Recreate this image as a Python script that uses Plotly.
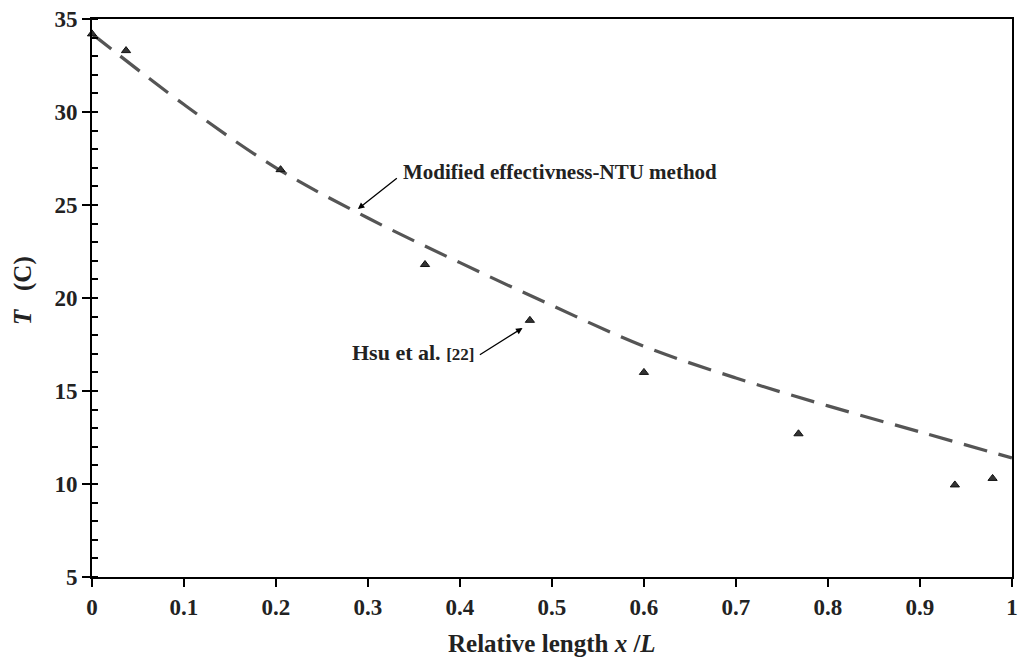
import plotly.graph_objects as go

# Measured data (Hsu et al. [22])
hsu_x = [0.0, 0.037, 0.205, 0.362, 0.476, 0.600, 0.768, 0.938, 0.979]
hsu_T = [34.2, 33.3, 26.9, 21.8, 18.8, 16.0, 12.7, 9.95, 10.3]

# Modified effectiveness-NTU method curve
model_x = [0.0, 0.1, 0.2, 0.3, 0.4, 0.5, 0.6, 0.7, 0.8, 0.9, 1.0]
model_T = [34.2, 30.4, 27.0, 24.3, 21.9, 19.6, 17.4, 15.7, 14.2, 12.8, 11.4]

x_ticks = [0, 0.1, 0.2, 0.3, 0.4, 0.5, 0.6, 0.7, 0.8, 0.9, 1]
x_ticklabels = ["0", "0.1", "0.2", "0.3", "0.4", "0.5", "0.6", "0.7", "0.8", "0.9", "1"]
y_ticks = [5, 10, 15, 20, 25, 30, 35]

FONT = "Liberation Serif"
TXT = "#222222"

fig = go.Figure()
fig.add_trace(go.Scatter(
    x=model_x, y=model_T, mode="lines", line_shape="spline",
    line=dict(color="#555555", width=3.2, dash="24px,12px"),
    showlegend=False, hoverinfo="skip"))
fig.add_trace(go.Scatter(
    x=hsu_x, y=hsu_T, mode="markers",
    marker=dict(symbol="triangle-up", size=8, color="#333333",
                line=dict(color="#111111", width=1)),
    showlegend=False, cliponaxis=False))

axis_common = dict(
    showline=True, linecolor="black", linewidth=2, mirror=True,
    showgrid=False, zeroline=False, automargin=False,
    tickfont=dict(family=FONT, size=23, color=TXT, weight="bold"),
    ticks="outside", tickcolor="black", tickwidth=2, ticklen=8,
    ticklabeloverflow="allow",
)

fig.update_xaxes(range=[0, 1.0001], tickvals=x_ticks, ticktext=x_ticklabels, **axis_common)
fig.update_yaxes(
    range=[5, 35], tickvals=y_ticks,
    minor=dict(dtick=1, ticks="inside", ticklen=6, tickwidth=1.5, tickcolor="black"),
    **axis_common)

# Axis titles as annotations (positioned as in reference)
fig.add_annotation(x=0.5, y=-0.120, xref="paper", yref="paper",
                   xanchor="center", yanchor="middle", showarrow=False,
                   text="<b>Relative length <i>x</i> /<i>L</i></b>",
                   font=dict(family=FONT, size=25, color=TXT))
fig.add_annotation(x=-0.075, y=0.5125, xref="paper", yref="paper",
                   xanchor="center", yanchor="middle", showarrow=False, textangle=-90,
                   text="<b><i>T</i>   (C)</b>",
                   font=dict(family=FONT, size=25, color=TXT))

# major y ticks cross into the plot a little
for v in y_ticks:
    fig.add_shape(type="line", xref="paper", yref="y", x0=0, x1=0.006, y0=v, y1=v,
                  line=dict(color="black", width=2))

# Arrows (empty-text annotations so tail is exact)
fig.add_annotation(x=0.289, y=24.78, ax=0.333, ay=26.5, xref="x", yref="y",
                   axref="x", ayref="y", text="", showarrow=True,
                   arrowhead=2, arrowsize=1, arrowwidth=1.3, arrowcolor="black")
fig.add_annotation(x=0.468, y=18.39, ax=0.420, ay=16.9, xref="x", yref="y",
                   axref="x", ayref="y", text="", showarrow=True,
                   arrowhead=2, arrowsize=1, arrowwidth=1.3, arrowcolor="black")

# Labels
fig.add_annotation(x=0.336, y=26.8, xref="x", yref="y", xanchor="left", yanchor="middle",
                   text="<b>Modified effectivness-NTU method</b>", showarrow=False,
                   font=dict(family=FONT, size=21, color=TXT))
fig.add_annotation(x=0.281, y=17.05, xref="x", yref="y", xanchor="left", yanchor="middle",
                   text="<b>Hsu et al. <span style='font-size:17px'>[22]</span></b>", showarrow=False,
                   font=dict(family=FONT, size=22, color=TXT))

fig.update_layout(
    width=1019, height=659,
    margin=dict(l=92, r=7, t=19, b=82),
    plot_bgcolor="white", paper_bgcolor="white",
    font=dict(family=FONT),
)

fig.write_html("out.html",
               config={"displayModeBar": False},
               post_script="document.body.style.margin='0';document.body.style.overflow='hidden';")
